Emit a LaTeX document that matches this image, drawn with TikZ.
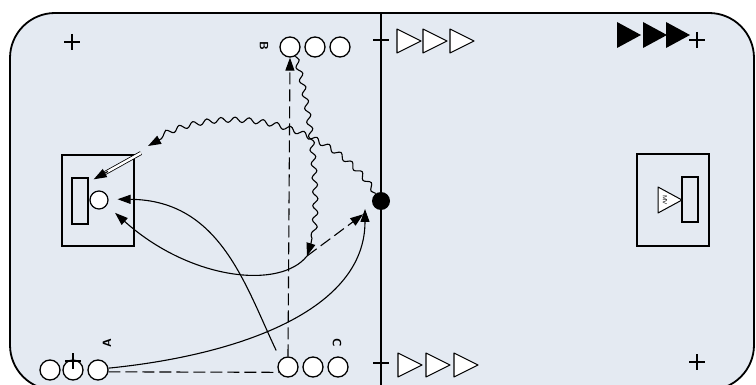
\documentclass[tikz,border=0pt]{standalone}
\usetikzlibrary{arrows.meta,decorations.pathmorphing,calc}
\definecolor{field}{HTML}{E4EAF2}
\begin{document}
\begin{tikzpicture}[x=1pt,y=-1pt,
  player/.style={circle,draw,fill=white,line width=1.3pt,minimum size=20pt,inner sep=0pt},
  keeper/.style={circle,draw,fill=white,line width=1.2pt,minimum size=18pt,inner sep=0pt},
  goalbox/.style={draw,line width=1.3pt,inner sep=0pt},
  arrowtip/.style={-{Triangle[length=13pt,width=9pt]}},
  conn/.style={line width=1.1pt},
  dashline/.style={conn,dash pattern=on 12pt off 5pt},
  wavy/.style={decorate,decoration={snake,amplitude=2.6pt,segment length=14pt,post length=13pt}},
  lbl/.style={font=\sffamily\bfseries\fontsize{12}{12}\selectfont,inner sep=0pt},
  plusmark/.pic={\draw[line width=1.1pt] (-8,0)--(8,0) (0,-8)--(0,8);},
  opencone/.pic={\draw[fill=white,line width=1.1pt,line join=round] (0,-12)--(24,0)--(0,12)--cycle;},
  fullcone/.pic={\fill[black] (0,-13)--(24,0)--(0,13)--cycle;}]
\useasboundingbox (0,0) rectangle (756,385);
\begin{scope}
  \clip (0,0) rectangle (756,385);
  \draw[fill=field,line width=1.8pt,rounded corners=45pt] (10,13) rectangle (754,390);
  \draw[line width=1.3pt] (381,13) -- (381,390);
\end{scope}
% goals
\node[goalbox,minimum width=72pt,minimum height=91pt] (boxL) at (98,200.5) {};
\node[goalbox,minimum width=16pt,minimum height=46pt] (gL) at (80,201) {};
\node[goalbox,minimum width=72pt,minimum height=92pt] (boxR) at (673,200) {};
\node[goalbox,minimum width=16pt,minimum height=45pt] (gR) at (690,199.5) {};
% keepers
\node[keeper] (gk) at (99,200) {};
\draw[fill=white,line width=1pt,line join=round] (658,187) -- (682,200) -- (658,213) -- cycle;
\node[rotate=-90,font=\fontsize{6}{6}\selectfont\sffamily,inner sep=0pt] (mv) at (665,200) {MV};
% ball
\node[circle,fill=black,minimum size=18pt,inner sep=0pt] (ball) at (381,201) {};
% players
\node[player] (a1) at (50,370) {};
\node[player] (a2) at (73,370) {};
\node[player] (a3) at (98,370) {};
\node[player] (c1) at (288,367) {};
\node[player] (c2) at (313,367) {};
\node[player] (c3) at (338,367) {};
\node[player] (b1) at (290,47) {};
\node[player] (b2) at (315,47) {};
\node[player] (b3) at (340,47) {};
\node[lbl,rotate=90] (la) at (107,343) {A};
\node[lbl,rotate=-90] (lb) at (264,46) {B};
\node[lbl,rotate=-90] (lc) at (337,343) {C};
% cones and markers
\pic at (397,41) {opencone}; \pic at (423,41) {opencone}; \pic at (450,41) {opencone};
\pic at (398,365) {opencone}; \pic at (426,365) {opencone}; \pic at (454,365) {opencone};
\pic at (617,35) {fullcone}; \pic at (643,35) {fullcone}; \pic at (666,35) {fullcone};
\pic at (72,42) {plusmark}; \pic at (381,40) {plusmark}; \pic at (697,40) {plusmark};
\pic at (381,363) {plusmark}; \pic at (697,362) {plusmark}; \pic at (73,361) {plusmark};
% connectors
\coordinate (m) at (307,256);
\coordinate (w) at (148,146);
\coordinate (w2) at (141,153);
\coordinate (gtip) at ($(gL.north east)+(5,2)$);
\draw[dashline] (a3.-10) -- (c1.-150);
\draw[dashline,arrowtip] (c1.north) -- (b1.south);
\draw[conn,arrowtip,wavy] (b1.-60) .. controls (312,110) and (322,225) .. (m);
\draw[dashline,arrowtip,shorten >=13pt] (m) -- (ball);
\draw[conn,arrowtip] (a3.10) .. controls (240,355) and (365,310) .. ($(ball)+(-16,8)$);
\draw[conn,arrowtip,shorten >=11pt] (m) .. controls (280,290) and (190,280) .. (gk.-35);
\draw[conn,arrowtip,shorten <=10pt,shorten >=9pt] (c1.135) .. controls (245,285) and (220,200) .. (gk.5);
\draw[conn,arrowtip,wavy] (ball.125) .. controls (330,125) and (225,100) .. (w);
\draw[double,double distance=2.4pt,line width=0.8pt,shorten >=13pt] (w2) -- (gtip);
\draw[conn,arrowtip] ($(w2)!0.7!(gtip)$) -- (gtip);
\end{tikzpicture}
\end{document}
